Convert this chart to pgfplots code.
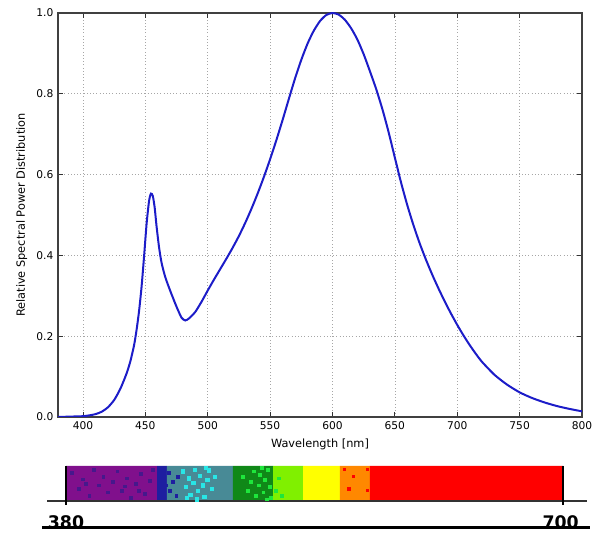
\documentclass[border=0pt]{standalone}
\usepackage{fontspec}
\setmainfont{DejaVu Sans}
\usepackage{pgfplots}
\pgfplotsset{compat=1.18}

\definecolor{curveblue}{RGB}{28,28,200}
\definecolor{spPurple}{RGB}{128,16,140}
\definecolor{spPurpleDk}{RGB}{70,24,140}
\definecolor{spBlue}{RGB}{30,30,160}
\definecolor{spTeal}{RGB}{72,138,150}
\definecolor{spCyan}{RGB}{40,230,230}
\definecolor{spGreenDk}{RGB}{16,136,24}
\definecolor{spGreen}{RGB}{30,230,60}
\definecolor{spLime}{RGB}{128,240,0}
\definecolor{spYellow}{RGB}{255,255,0}
\definecolor{spOrange}{RGB}{255,136,0}
\definecolor{spRed}{RGB}{255,0,0}

\begin{document}
\begin{tikzpicture}[x=1pt,y=1pt]
\path[use as bounding box] (0,0) rectangle (444.75,401.25);

% spectral power distribution
\begin{axis}[
  at={(43.5pt,88.5pt)}, anchor=south west,
  scale only axis, width=393pt, height=303pt,
  xmin=380, xmax=800, ymin=0, ymax=1,
  xtick={400,450,500,550,600,650,700,750,800},
  ytick={0,0.2,0.4,0.6,0.8,1},
  /pgf/number format/assume math mode=true,
  yticklabel style={/pgf/number format/.cd,fixed,fixed zerofill,precision=1},
  xticklabel style={/pgf/number format/.cd,set thousands separator={}},
  tick label style={font=\fontsize{8}{9}\selectfont},
  label style={font=\fontsize{8.5}{10}\selectfont},
  xlabel={Wavelength [nm]},
  ylabel={Relative Spectral Power Distribution},
  tick align=inside, major tick length=4pt,
  tick style={black!80, line width=0.6pt},
  axis line style={black!75, line width=1pt},
  grid=major, grid style={dotted, gray!70, line width=0.5pt},
]
\addplot[curveblue, line width=1.5pt, smooth, tension=0.4] coordinates {
  (380,0.000) (390,0.001) (400,0.002) (405,0.004) (410,0.007) (415,0.013)
  (420,0.024) (425,0.042) (430,0.070) (435,0.108) (438,0.138) (441,0.178)
  (443,0.216) (445,0.263) (447,0.323) (449,0.398) (451,0.478) (453,0.535)
  (454.5,0.553) (456,0.547) (457.5,0.518) (459,0.472) (461,0.420) (463,0.382)
  (466,0.346) (470,0.312) (475,0.273) (479,0.246) (482,0.239) (485,0.244)
  (490,0.260) (495,0.285) (500,0.313) (505,0.340) (510,0.366) (515,0.392)
  (520,0.419) (525,0.448) (530,0.480) (535,0.515) (540,0.553) (545,0.594)
  (550,0.638) (555,0.685) (560,0.735) (565,0.787) (570,0.838) (575,0.884)
  (580,0.924) (585,0.956) (590,0.980) (595,0.995) (600,1.000) (605,0.996)
  (610,0.983) (615,0.962) (620,0.934) (625,0.898) (630,0.856) (635,0.812)
  (640,0.762) (645,0.705) (650,0.642) (655,0.580) (660,0.524) (665,0.474)
  (670,0.429) (675,0.389) (680,0.352) (685,0.318) (690,0.286) (695,0.256)
  (700,0.228) (705,0.202) (710,0.178) (715,0.156) (720,0.136) (730,0.104)
  (740,0.080) (750,0.061) (760,0.047) (770,0.036) (780,0.027) (790,0.020)
  (800,0.014)
};
\end{axis}

% visible spectrum strip
\begin{axis}[
  at={(49.5pt,25.5pt)}, anchor=south west,
  scale only axis, width=372.75pt, height=26.25pt,
  xmin=380, xmax=700, ymin=0, ymax=1,
  hide axis, clip=false,
]
\addplot[fill=spPurple, draw=none] coordinates {(380,0)(380,1)(438.6,1)(438.6,0)} \closedcycle;
\addplot[fill=spBlue, draw=none] coordinates {(438.6,0)(438.6,1)(445,1)(445,0)} \closedcycle;
\addplot[fill=spTeal, draw=none] coordinates {(445,0)(445,1)(487.5,1)(487.5,0)} \closedcycle;
\addplot[fill=spGreenDk, draw=none] coordinates {(487.5,0)(487.5,1)(513.3,1)(513.3,0)} \closedcycle;
\addplot[fill=spLime, draw=none] coordinates {(513.3,0)(513.3,1)(532.6,1)(532.6,0)} \closedcycle;
\addplot[fill=spYellow, draw=none] coordinates {(532.6,0)(532.6,1)(556.4,1)(556.4,0)} \closedcycle;
\addplot[fill=spOrange, draw=none] coordinates {(556.4,0)(556.4,1)(575.7,1)(575.7,0)} \closedcycle;
\addplot[fill=spRed, draw=none] coordinates {(575.7,0)(575.7,1)(700,1)(700,0)} \closedcycle;
% speckle
\addplot[only marks, mark=square*, mark size=1.1pt, spPurpleDk, mark options={draw=none}] coordinates {
  (384,0.80) (388,0.35) (391,0.62) (395,0.15) (398,0.88) (401,0.45) (404,0.70)
  (407,0.25) (410,0.55) (413,0.85) (416,0.30) (419,0.65) (422,0.10) (425,0.48)
  (428,0.78) (431,0.20) (434,0.58) (436,0.90) (393,0.50) (418,0.42) (427,0.30)
};
\addplot[only marks, mark=square*, mark size=1.1pt, spBlue, mark options={draw=none}] coordinates {
  (446,0.80) (447,0.30) (449,0.55) (451,0.15) (452,0.70) (444,0.45)
};
\addplot[only marks, mark=square*, mark size=1.2pt, spCyan, mark options={draw=none}] coordinates {
  (455,0.85) (457,0.40) (459,0.65) (460,0.18) (462,0.52) (463,0.90) (465,0.30)
  (466,0.72) (468,0.45) (469,0.12) (471,0.60) (472,0.88) (474,0.35) (476,0.70)
  (458,0.10) (464,0.05) (470,0.95)
};
\addplot[only marks, mark=square*, mark size=1.1pt, spGreen, mark options={draw=none}] coordinates {
  (494,0.70) (497,0.30) (499,0.55) (501,0.85) (502,0.15) (504,0.45) (505,0.75)
  (507,0.25) (508,0.60) (510,0.90) (511,0.40) (512,0.10) (509,0.05) (506,0.95)
  (515,0.30) (517,0.65) (519,0.15)
};
\addplot[only marks, mark=square*, mark size=0.9pt, spRed, mark options={draw=none}] coordinates {
  (559,0.90) (562,0.35) (565,0.70) (574,0.90) (574,0.30)
};
% base line, ticks, labels
\addplot[black!80, line width=1.5pt] coordinates {(367.8,0)(715.5,0)};
\addplot[black, line width=1.1pt] coordinates {(380,1)(380,-0.12)};
\addplot[black, line width=1.1pt] coordinates {(700,1)(700,-0.12)};
\node[anchor=base, font=\fontsize{13}{14}\selectfont\bfseries, inner sep=0pt]
  at (axis cs:380,-0.78) {380};
\node[anchor=base, font=\fontsize{13}{14}\selectfont\bfseries, inner sep=0pt]
  at (axis cs:698.5,-0.78) {700};
\addplot[black, line width=2.25pt] coordinates {(364.5,-0.76)(717.5,-0.76)};
\end{axis}
\end{tikzpicture}
\end{document}
